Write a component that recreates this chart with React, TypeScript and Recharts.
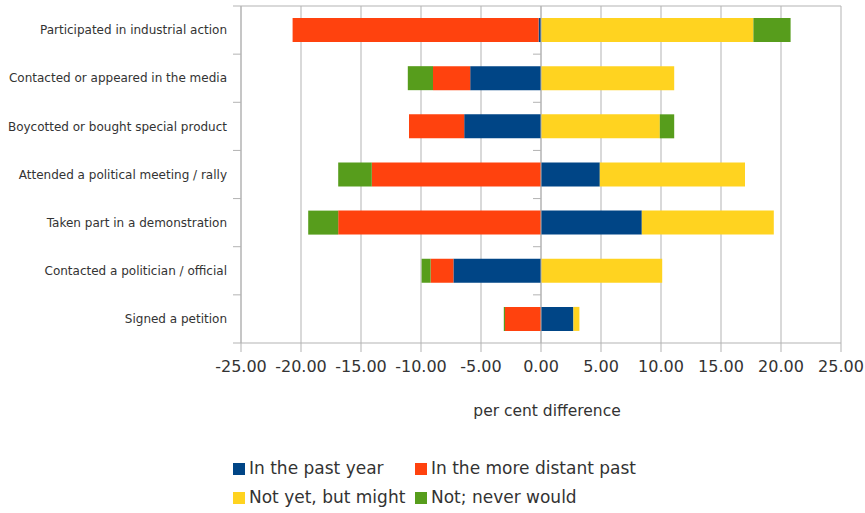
import React from 'react';
import { BarChart, Bar, XAxis, YAxis, CartesianGrid, Legend, ReferenceLine } from 'recharts';

const categories = [
  'Participated in industrial action',
  'Contacted or appeared in the media',
  'Boycotted or bought special product',
  'Attended a political meeting / rally',
  'Taken part in a demonstration',
  'Contacted a politician / official',
  'Signed a petition',
];

const pastYear = [-0.2, -5.9, -6.4, 4.9, 8.4, -7.3, 2.7];
const distantPast = [-20.5, -3.1, -4.6, -14.1, -16.9, -1.9, -3.0];
const mightDo = [17.7, 11.1, 9.9, 12.1, 11.0, 10.1, 0.5];
const neverWould = [3.1, -2.1, 1.2, -2.8, -2.5, -0.75, -0.1];

const xTicks = [-25, -20, -15, -10, -5, 0, 5, 10, 15, 20, 25];

const seriesKeys = ['pastYear', 'distantPast', 'mightDo', 'neverWould'];
const seriesNames: Record<string, string> = {
  pastYear: 'In the past year',
  distantPast: 'In the more distant past',
  mightDo: 'Not yet, but might',
  neverWould: 'Not; never would',
};

const COLORS: Record<string, string> = {
  pastYear: '#004586',
  distantPast: '#ff420e',
  mightDo: '#ffd320',
  neverWould: '#579d1c',
};

const data = categories.map((name, i) => ({
  name,
  pastYear: pastYear[i],
  distantPast: distantPast[i],
  mightDo: mightDo[i],
  neverWould: neverWould[i],
}));

const FONT = '"DejaVu Sans", sans-serif';
const GRID = '#b3b3b3';
const TEXT = '#333333';

const CategoryTick = (props: any) => {
  const { x, y, payload } = props;
  return (
    <text x={x} y={y} dy="0.355em" textAnchor="end" fontSize={12} fill={TEXT} fontFamily={FONT}>
      {payload.value}
    </text>
  );
};

const makeTickShape = (includeEnds: boolean) => (props: any) => {
  const { x1, y1, y2 } = props;
  const top = Math.min(y1, y2);
  const bottom = Math.max(y1, y2);
  const n = categories.length;
  const step = (bottom - top) / n;
  const lines = [];
  for (let i = includeEnds ? 0 : 1; i <= (includeEnds ? n : n - 1); i++) {
    const yy = top + i * step;
    lines.push(<line key={i} x1={x1 - 8} x2={x1} y1={yy} y2={yy} stroke={GRID} strokeWidth={1} />);
  }
  return (
    <g>
      <line x1={x1} x2={x1} y1={top} y2={bottom} stroke={GRID} strokeWidth={1} />
      {lines}
    </g>
  );
};

const LegendContent = () => {
  return (
    <div
      style={{
        display: 'grid',
        gridTemplateColumns: '182px 250px',
        fontFamily: FONT,
        fontSize: 17,
        color: TEXT,
        lineHeight: '29px',
      }}
    >
      {seriesKeys.map((k) => (
        <div key={k} style={{ display: 'flex', alignItems: 'center', whiteSpace: 'nowrap' }}>
          <span style={{ display: 'inline-block', width: 12, height: 12, background: COLORS[k], marginRight: 4, flexShrink: 0 }} />
          <span>{seriesNames[k]}</span>
        </div>
      ))}
    </div>
  );
};

export default function App() {
  return (
    <div style={{ position: 'absolute', left: 0, top: 0, width: 865, height: 513, background: '#fff' }}>
      <BarChart
        width={865}
        height={513}
        data={data}
        layout="vertical"
        stackOffset="sign"
        barCategoryGap="25%"
        margin={{ top: 6, right: 24, bottom: 95, left: 0 }}
      >
        <CartesianGrid
          stroke={GRID}
          vertical={true}
          horizontal={true}
          horizontalCoordinatesGenerator={(p: any) => [p.offset.top]}
        />
        <XAxis
          type="number"
          domain={[-25, 25]}
          ticks={xTicks}
          interval={0}
          tickFormatter={(v: number) => v.toFixed(2)}
          stroke={GRID}
          tickSize={9}
          tickMargin={9}
          height={75}
          tick={{ fill: TEXT, fontSize: 16, fontFamily: FONT }}
          label={{
            value: 'per cent difference',
            position: 'insideTop',
            offset: 62,
            dx: 6,
            fill: TEXT,
            fontSize: 15.5,
            fontFamily: FONT,
          }}
        />
        <YAxis
          type="category"
          dataKey="name"
          width={241}
          tickLine={false}
          axisLine={false}
          tickSize={8}
          tickMargin={6}
          interval={0}
          tick={<CategoryTick />}
        />
        <Legend
          layout="vertical"
          align="center"
          verticalAlign="middle"
          wrapperStyle={{ position: 'absolute', left: 233, top: 454, width: 440 }}
          content={<LegendContent />}
        />
        <Bar dataKey="pastYear" name={seriesNames.pastYear} stackId="s" fill={COLORS.pastYear} isAnimationActive={false} />
        <Bar dataKey="distantPast" name={seriesNames.distantPast} stackId="s" fill={COLORS.distantPast} isAnimationActive={false} />
        <Bar dataKey="mightDo" name={seriesNames.mightDo} stackId="s" fill={COLORS.mightDo} isAnimationActive={false} />
        <Bar dataKey="neverWould" name={seriesNames.neverWould} stackId="s" fill={COLORS.neverWould} isAnimationActive={false} />
        <ReferenceLine x={0} shape={makeTickShape(false)} />
        <ReferenceLine x={-25} shape={makeTickShape(true)} />
      </BarChart>
    </div>
  );
}
